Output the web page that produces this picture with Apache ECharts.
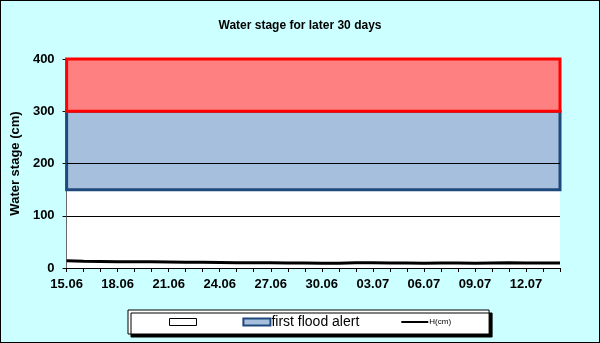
<!DOCTYPE html>
<html>
<head>
<meta charset="utf-8">
<script src="https://cdn.jsdelivr.net/npm/echarts@6/dist/echarts.min.js"></script>
<style>
  html, body { margin: 0; padding: 0; background: #CCFFFF; }
  #chart { width: 598px; height: 341px; border: 1px solid #000; }
</style>
</head>
<body>
<div id="chart"></div>
<script>
// Days shown on the x axis
const days = ['15.06','16.06','17.06','18.06','19.06','20.06','21.06','22.06','23.06','24.06',
              '25.06','26.06','27.06','28.06','29.06','30.06','01.07','02.07','03.07','04.07',
              '05.07','06.07','07.07','08.07','09.07','10.07','11.07','12.07','13.07','14.07'];
// Water stage, cm
const stage = [14, 13, 12.5, 12, 12, 12, 11.5, 11, 11, 10.5,
               10, 10, 10, 9.5, 9.5, 9, 9, 10, 10, 9.5,
               9.5, 9, 9.5, 9.5, 9, 9.5, 10, 9.5, 9.5, 9.5];
// Alert bands, cm
const normalBand = [0, 150];
const firstAlertBand = [150, 300];
const dangerBand = [300, 400];
const gridLevels = [100, 200];
const yTicks = [0, 100, 200, 300, 400];

const chart = echarts.init(document.getElementById('chart'));
const first = days[0], last = days[days.length - 1];
const band = (range, fill, border, width) => ({
  silent: true,
  itemStyle: { color: fill, borderColor: border, borderWidth: width },
  data: [[{ xAxis: first, yAxis: range[0] }, { xAxis: last, yAxis: range[1] }]]
});
const font = 'Liberation Sans, Arial, sans-serif';

chart.setOption({
  animation: false,
  backgroundColor: '#CCFFFF',
  title: {
    text: 'Water stage for later 30 days',
    left: 'center', top: 14,
    textStyle: { fontFamily: font, fontSize: 12, fontWeight: 'bold', color: '#000' }
  },
  grid: {
    left: 64, right: 39, top: 58, bottom: 74,
    show: true, backgroundColor: '#fff', borderWidth: 0
  },
  legend: {
    left: 127, top: 309,
    padding: [5, 38, 5, 41],
    itemGap: 41,
    itemWidth: 27, itemHeight: 7,
    backgroundColor: '#fff', borderColor: '#000', borderWidth: 1,
    shadowColor: '#000', shadowOffsetX: 3, shadowOffsetY: 3, shadowBlur: 0,
    textStyle: { fontFamily: font, fontSize: 14, color: '#000', padding: [0, 0, 0, -4] },
    data: [
      { name: ' ', icon: 'rect', itemStyle: { color: '#fff', borderColor: '#000', borderWidth: 1 } },
      { name: 'first flood alert', icon: 'rect',
        itemStyle: { color: '#A6BFDD', borderColor: '#1F497D', borderWidth: 2 } },
      { name: 'H(cm)', itemStyle: { opacity: 0 }, lineStyle: { color: '#000', width: 2 },
        textStyle: { fontSize: 8, padding: [0, 0, 0, -4] } }
    ]
  },
  xAxis: {
    type: 'category', data: days, boundaryGap: false,
    axisLine: { lineStyle: { color: '#000', width: 1 } },
    axisTick: { show: true, interval: 0, length: 4, lineStyle: { color: '#000' } },
    axisLabel: { interval: 2, margin: 10, fontFamily: font, fontSize: 13, fontWeight: 'bold', color: '#000' },
    splitLine: { show: false }
  },
  yAxis: {
    type: 'value', min: yTicks[0], max: yTicks[yTicks.length - 1], interval: 100,
    name: 'Water stage (cm)', nameLocation: 'middle', nameGap: 34,
    nameTextStyle: { fontFamily: font, fontSize: 13, fontWeight: 'bold', color: '#000' },
    axisLine: { show: true, lineStyle: { color: '#000', width: 1 } },
    axisTick: { show: true, length: 4, lineStyle: { color: '#000' } },
    axisLabel: { margin: 12, fontFamily: font, fontSize: 13, fontWeight: 'bold', color: '#000' },
    splitLine: { show: false }
  },
  series: [
    { name: ' ', type: 'line', data: [], itemStyle: { color: '#fff' },
      markArea: band(normalBand, '#fff', '#fff', 0) },
    { name: 'first flood alert', type: 'line', data: [], itemStyle: { color: '#A6BFDD' },
      markArea: band(firstAlertBand, '#A6BFDD', '#1F497D', 3) },
    { name: 'danger', type: 'line', data: [], itemStyle: { color: '#FF8080' },
      markArea: band(dangerBand, '#FF8080', '#FF0000', 3),
      markLine: {
        silent: true, symbol: 'none', label: { show: false },
        lineStyle: { color: '#000', width: 1, type: 'solid' },
        data: gridLevels.map(v => ({ yAxis: v }))
      },
      z: 3
    },
    { name: 'H(cm)', type: 'line', data: stage, showSymbol: false, symbol: 'none',
      lineStyle: { color: '#000', width: 3 }, itemStyle: { color: '#000' }, z: 5 }
  ]
});
</script>
</body>
</html>
